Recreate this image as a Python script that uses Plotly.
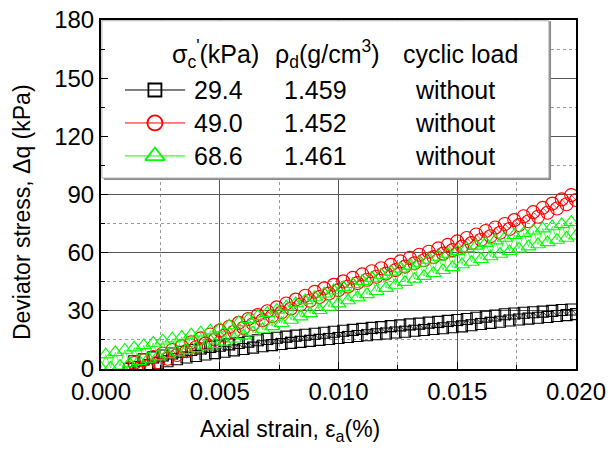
import plotly.graph_objects as go

# ---------------- data ----------------
strain_black = [0.0012, 0.0014, 0.0016, 0.0018, 0.0020, 0.0022, 0.0024, 0.0026, 0.0028, 0.0030,
                0.0032, 0.0034, 0.0036, 0.0038, 0.0040, 0.0042, 0.0044, 0.0046, 0.0048, 0.0050,
                0.0052, 0.0054, 0.0056, 0.0058, 0.0060, 0.0062, 0.0064, 0.0066, 0.0068, 0.0070,
                0.0072, 0.0074, 0.0076, 0.0078, 0.0080, 0.0082, 0.0084, 0.0086, 0.0088, 0.0090,
                0.0092, 0.0094, 0.0096, 0.0098, 0.0100, 0.0102, 0.0104, 0.0106, 0.0108, 0.0110,
                0.0112, 0.0114, 0.0116, 0.0118, 0.0120, 0.0122, 0.0124, 0.0126, 0.0128, 0.0130,
                0.0132, 0.0134, 0.0136, 0.0138, 0.0140, 0.0142, 0.0144, 0.0146, 0.0148, 0.0150,
                0.0152, 0.0154, 0.0156, 0.0158, 0.0160, 0.0162, 0.0164, 0.0166, 0.0168, 0.0170,
                0.0172, 0.0174, 0.0176, 0.0178, 0.0180, 0.0182, 0.0184, 0.0186, 0.0188, 0.0190,
                0.0192, 0.0194, 0.0196, 0.0198, 0.0200]
dq_black = [0.0, 4.0, 1.0, 5.0, 2.0, 6.0, 3.0, 7.0, 4.0, 8.0,
            5.0, 8.9, 5.9, 9.8, 6.7, 10.6, 7.5, 11.4, 8.2, 12.0,
            8.9, 12.7, 9.6, 13.4, 10.3, 14.1, 11.0, 14.8, 11.7, 15.5,
            12.3, 16.1, 12.9, 16.7, 13.5, 17.2, 14.0, 17.7, 14.5, 18.2,
            15.0, 18.7, 15.5, 19.2, 16.0, 19.7, 16.5, 20.2, 17.0, 20.7,
            17.4, 21.2, 17.9, 21.6, 18.3, 22.1, 18.8, 22.5, 19.2, 23.0,
            19.7, 23.4, 20.1, 23.9, 20.6, 24.3, 21.0, 24.8, 21.5, 25.3,
            22.0, 25.8, 22.6, 26.4, 23.2, 27.0, 23.8, 27.6, 24.4, 28.2,
            25.0, 28.6, 25.5, 29.0, 26.0, 29.3, 26.4, 29.6, 26.8, 30.0,
            27.3, 30.4, 27.8, 30.7, 28.3]

strain_red = list(strain_black)
dq_red = [0.3, 3.1, 0.4, 4.6, 1.7, 6.2, 3.5, 8.0, 5.3, 9.8,
          7.2, 11.8, 9.2, 13.8, 11.2, 15.8, 13.2, 17.8, 15.2, 19.8,
          17.2, 21.8, 19.2, 23.8, 21.2, 25.8, 23.2, 27.8, 25.2, 29.8,
          27.2, 31.8, 29.2, 33.8, 31.2, 35.8, 33.2, 37.8, 35.2, 39.8,
          37.1, 41.6, 38.9, 43.4, 40.7, 45.2, 42.5, 47.0, 44.3, 48.8,
          46.0, 50.4, 47.6, 52.0, 49.2, 53.7, 51.0, 55.5, 52.8, 57.3,
          54.5, 58.9, 56.1, 60.5, 57.7, 62.2, 59.5, 64.0, 61.3, 65.8,
          63.1, 67.6, 64.9, 69.4, 66.7, 71.2, 68.5, 73.0, 70.3, 74.8,
          72.2, 76.8, 74.2, 78.8, 76.2, 80.9, 78.5, 83.1, 80.6, 85.3,
          82.8, 87.5, 85.0, 89.7, 87.2]

strain_green = [0.0000, 0.0002, 0.0004, 0.0006, 0.0008, 0.0010, 0.0012, 0.0014, 0.0016, 0.0018,
                0.0020, 0.0022, 0.0024, 0.0026, 0.0028, 0.0030, 0.0032, 0.0034, 0.0036, 0.0038,
                0.0040, 0.0042, 0.0044, 0.0046, 0.0048, 0.0050, 0.0052, 0.0054, 0.0056, 0.0058,
                0.0060, 0.0062, 0.0064, 0.0066, 0.0068, 0.0070, 0.0072, 0.0074, 0.0076, 0.0078,
                0.0080, 0.0082, 0.0084, 0.0086, 0.0088, 0.0090, 0.0092, 0.0094, 0.0096, 0.0098,
                0.0100, 0.0102, 0.0104, 0.0106, 0.0108, 0.0110, 0.0112, 0.0114, 0.0116, 0.0118,
                0.0120, 0.0122, 0.0124, 0.0126, 0.0128, 0.0130, 0.0132, 0.0134, 0.0136, 0.0138,
                0.0140, 0.0142, 0.0144, 0.0146, 0.0148, 0.0150, 0.0152, 0.0154, 0.0156, 0.0158,
                0.0160, 0.0162, 0.0164, 0.0166, 0.0168, 0.0170, 0.0172, 0.0174, 0.0176, 0.0178,
                0.0180, 0.0182, 0.0184, 0.0186, 0.0188, 0.0190, 0.0192, 0.0194, 0.0196, 0.0198,
                0.0200]
dq_green = [0.5, 7.4, 0.6, 8.6, 1.6, 9.8, 2.8, 11.0, 4.0, 12.2,
            5.2, 13.4, 6.4, 14.6, 7.5, 15.6, 8.5, 16.6, 9.6, 17.7,
            10.6, 18.7, 11.6, 19.8, 12.7, 20.8, 14.0, 22.4, 15.6, 24.0,
            17.2, 25.6, 18.8, 27.2, 20.4, 28.8, 22.0, 30.4, 23.6, 32.1,
            25.3, 33.8, 27.0, 35.4, 28.7, 37.1, 30.3, 38.8, 32.0, 40.5,
            33.7, 42.1, 35.3, 43.7, 36.9, 45.3, 38.5, 46.9, 40.1, 48.5,
            41.7, 50.1, 43.3, 51.7, 44.8, 53.2, 46.4, 54.7, 47.9, 56.2,
            49.4, 57.8, 50.9, 59.3, 52.4, 60.8, 53.9, 62.2, 55.2, 63.5,
            56.6, 64.9, 58.0, 66.2, 59.3, 67.6, 60.7, 69.0, 62.0, 70.1,
            63.1, 71.3, 64.2, 72.4, 65.3, 73.5, 66.5, 74.6, 67.6, 75.7,
            68.7]

x_ticks = [0.000, 0.005, 0.010, 0.015, 0.020]
y_ticks = [0, 30, 60, 90, 120, 150, 180]

legend_sigma = ["29.4", "49.0", "68.6"]
legend_rho = ["1.459", "1.452", "1.461"]
legend_cyclic = ["without", "without", "without"]

# ---------------- styles ----------------
colors = ["#000000", "#ff0000", "#00ff00"]
symbols = ["square-open", "circle-open", "triangle-up-open"]
sizes = [11, 13, 13]
legend_sizes = [13, 15, 17]
FONT = "Arial, Liberation Sans, sans-serif"

fig = go.Figure()
series = [(strain_black, dq_black), (strain_red, dq_red), (strain_green, dq_green)]
for (xs, ys), c, s, sz in zip(series, colors, symbols, sizes):
    fig.add_trace(go.Scatter(
        x=xs, y=ys, mode="lines+markers",
        line=dict(color=c, width=0.7),
        marker=dict(symbol=s, size=sz, color=c, line=dict(color=c, width=1.1)),
        showlegend=False, cliponaxis=True))

# ---------------- custom legend (table) ----------------
fig.add_shape(type="rect", xref="x", yref="y", x0=0.00012, x1=0.01895, y0=97.5, y1=179.3,
              line=dict(color="#808080", width=0), fillcolor="#8a8a8a", layer="between")
fig.add_shape(type="rect", xref="x", yref="y", x0=0.00004, x1=0.01886, y0=98.5, y1=179.6,
              line=dict(color="#b0b0b0", width=1), fillcolor="white", layer="between")

row_y = [143.9, 126.9, 109.9]
LF = 25
for i in range(3):
    fig.add_trace(go.Scatter(
        x=[0.00101, 0.00354], y=[row_y[i], row_y[i]], mode="lines",
        line=dict(color=colors[i], width=1), showlegend=False, hoverinfo="skip"))
    fig.add_trace(go.Scatter(
        x=[0.00227], y=[row_y[i]], mode="markers",
        marker=dict(symbol=symbols[i], size=legend_sizes[i], color=colors[i],
                    line=dict(color=colors[i], width=1.8)),
        showlegend=False, hoverinfo="skip"))
    fig.add_annotation(x=0.00385, y=row_y[i], xref="x", yref="y", text=legend_sigma[i],
                       showarrow=False, xanchor="left", yanchor="middle",
                       font=dict(family=FONT, size=LF, color="black"))
    fig.add_annotation(x=0.00760, y=row_y[i], xref="x", yref="y", text=legend_rho[i],
                       showarrow=False, xanchor="left", yanchor="middle",
                       font=dict(family=FONT, size=LF, color="black"))
    fig.add_annotation(x=0.01491, y=row_y[i], xref="x", yref="y", text=legend_cyclic[i],
                       showarrow=False, xanchor="center", yanchor="middle",
                       font=dict(family=FONT, size=LF, color="black"))

header_y = 162.5
fig.add_annotation(x=0.0029, y=header_y, xref="x", yref="y",
                   text="σ<sub>c</sub><sup>'</sup>(kPa)", showarrow=False,
                   xanchor="left", yanchor="middle", font=dict(family=FONT, size=LF, color="black"))
fig.add_annotation(x=0.00724, y=header_y, xref="x", yref="y",
                   text="ρ<sub>d</sub>(g/cm<sup>3</sup>)", showarrow=False,
                   xanchor="left", yanchor="middle", font=dict(family=FONT, size=LF, color="black"))
fig.add_annotation(x=0.01512, y=header_y, xref="x", yref="y",
                   text="cyclic load", showarrow=False,
                   xanchor="center", yanchor="middle", font=dict(family=FONT, size=LF, color="black"))

# axis titles (placed as in the reference, which is off-centre)
fig.add_annotation(x=0.398, y=-0.175, xref="paper", yref="paper",
                   text="Axial strain, ε<sub>a</sub>(%)", showarrow=False,
                   xanchor="center", yanchor="middle",
                   font=dict(family=FONT, size=23, color="black"))
fig.add_annotation(x=-0.166, y=0.45, xref="paper", yref="paper",
                   text="Deviator stress, Δq (kPa)", showarrow=False, textangle=-90,
                   xanchor="center", yanchor="middle",
                   font=dict(family=FONT, size=23, color="black"))

# ---------------- axes ----------------
axis_common = dict(
    showline=True, linecolor="black", linewidth=2, mirror=True,
    ticks="inside", ticklen=7, tickwidth=1, tickcolor="black",
    showgrid=True, gridcolor="#555555", gridwidth=1,
    zeroline=False,
    tickfont=dict(family=FONT, size=24, color="black"),
)
fig.update_xaxes(
    range=[0, 0.020], tickvals=x_ticks, ticktext=[f"{v:.3f}" for v in x_ticks],
    minor=dict(dtick=0.0025, tick0=0, ticks="inside", ticklen=4, tickcolor="black",
               showgrid=True, gridcolor="#999999", griddash="dot", gridwidth=1),
    **axis_common)
fig.update_yaxes(
    range=[0, 180], tickvals=y_ticks,
    minor=dict(dtick=15, tick0=0, ticks="inside", ticklen=4, tickcolor="black",
               showgrid=True, gridcolor="#999999", griddash="dot", gridwidth=1),
    **axis_common)

fig.update_layout(
    width=610, height=452,
    margin=dict(l=101, r=34, t=20, b=83, autoexpand=False),
    paper_bgcolor="white", plot_bgcolor="white",
    showlegend=False,
)

fig.write_html("out.html")
